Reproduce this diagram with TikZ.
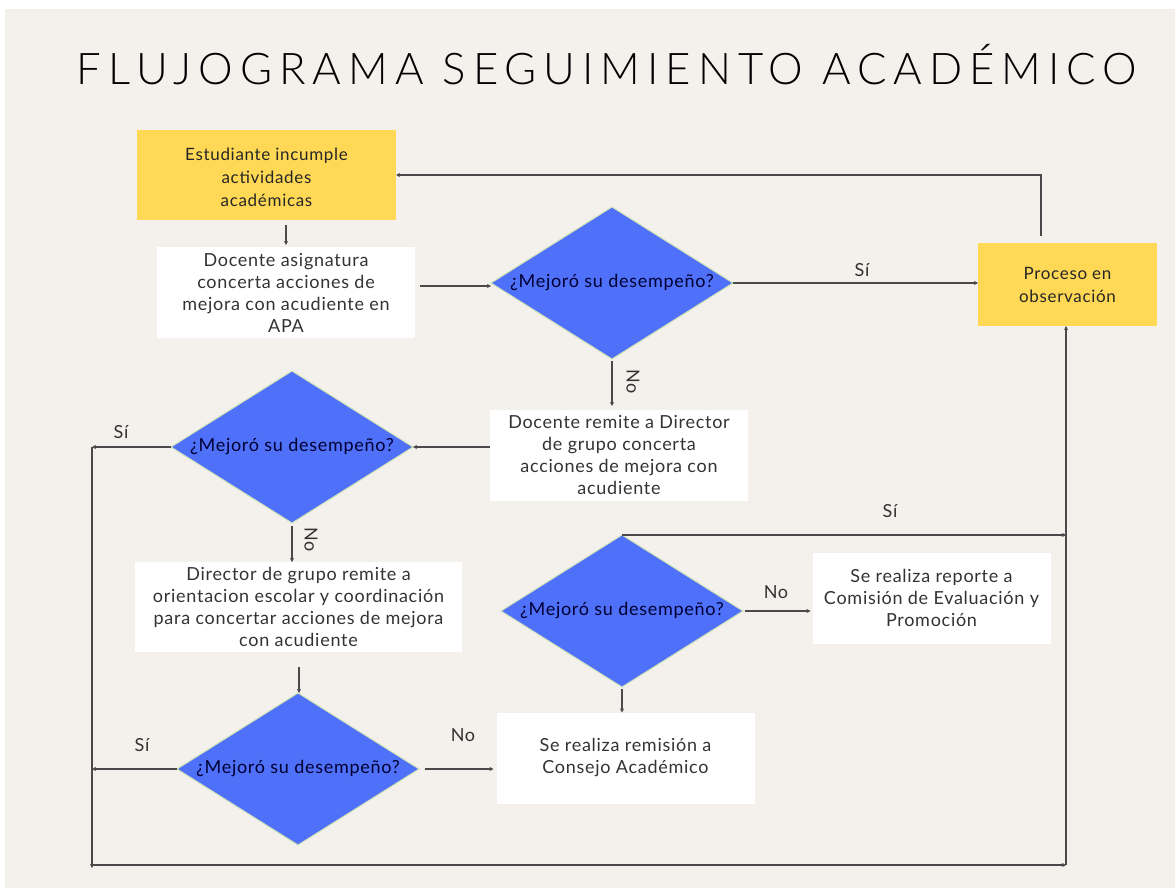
\documentclass[tikz,border=0pt]{standalone}
\usepackage{fontspec}
\usepackage{graphicx}
\usetikzlibrary{shapes.geometric,arrows.meta}
\setmainfont{Lato}[LetterSpace=4]
\newfontfamily\titlefont[LetterSpace=16]{Lato Light}
\definecolor{bgc}{HTML}{F4F1EC}
\definecolor{ylw}{HTML}{FFD955}
\definecolor{dblue}{HTML}{4F70F8}
\definecolor{dedge}{HTML}{CFE3B5}
\definecolor{lnc}{HTML}{4A4A4A}
\definecolor{txc}{HTML}{333333}
\tikzset{
  x=1pt, y=-1pt,
  every node/.style={inner sep=0pt, outer sep=0pt},
  boxtxt/.style={font=\fontsize{18}{22}\selectfont, text=txc, align=center},
  ybox/.style={boxtxt, fill=ylw, font=\fontsize{17}{23}\selectfont, text=black!85},
  wbox/.style={boxtxt, fill=white},
  dia/.style={diamond, fill=dblue, draw=dedge, line width=1pt, minimum width=242pt, minimum height=152pt, font=\fontsize{18}{20}\selectfont, text=black!80!blue},
  conn/.style={draw=lnc, line width=1.2pt},
  arr/.style={conn, -{Stealth[length=4pt,width=4pt]}},
  lab/.style={font=\fontsize{18}{20}\selectfont, text=txc}
}
\begin{document}
\begin{tikzpicture}
\useasboundingbox (0,0) rectangle (1175,888);
\fill[white] (0,0) rectangle (1175,888);
\fill[bgc] (5,9) rectangle (1175,888);

\node[anchor=base] (title) at (607,85) {\resizebox{1060pt}{!}{\titlefont\fontsize{44}{50}\selectfont FLUJOGRAMA SEGUIMIENTO ACADÉMICO}};

% boxes
\node[ybox, minimum width=259pt, minimum height=90pt] (y1) at (266.5,175) {\rule{0pt}{17pt}Estudiante incumple\\actividades\\académicas};
\node[wbox, minimum width=258pt, minimum height=91pt] (w1) at (286,292.5) {Docente asignatura\\concerta acciones de\\mejora con acudiente en\\APA};
\node[ybox, font=\fontsize{17}{23}\selectfont, minimum width=179pt, minimum height=83pt] (p) at (1067.5,284.5) {Proceso en\\observación};
\node[wbox, minimum width=258pt, minimum height=91pt] (w2) at (619,455.5) {Docente remite a Director\\de grupo concerta\\acciones de mejora con\\acudiente};
\node[wbox, minimum width=327pt, minimum height=90pt] (w3) at (298.5,607) {Director de grupo remite a\\orientacion escolar y coordinación\\para concertar acciones de mejora\\con acudiente};
\node[wbox, minimum width=238pt, minimum height=91pt] (w4) at (931.5,598) {Se realiza reporte a\\Comisión de Evaluación y\\Promoción};
\node[wbox, minimum width=258pt, minimum height=91pt] (w5) at (625.5,758) {Se realiza remisión a\\Consejo Académico};

% diamonds
\node[dia] (d1) at (612,283) {\makebox[0pt]{¿Mejoró su desempeño?}};
\node[dia] (d2) at (292,447) {\makebox[0pt]{¿Mejoró su desempeño?}};
\node[dia] (d3) at (622,611) {\makebox[0pt]{¿Mejoró su desempeño?}};
\node[dia] (d4) at (298,769) {\makebox[0pt]{¿Mejoró su desempeño?}};

% helper coordinates
\coordinate (cL) at (92,447);
\coordinate (cB) at (92,865);
\coordinate (cR) at (1066,865);
\coordinate (cT) at (1041,236);
\coordinate (cY) at (286,225);
\coordinate (cW) at (299,667);
\coordinate (cA) at (420,286);

% connectors
\draw[arr] (cY) -- ([yshift=2pt]w1.north -| cY);
\draw[arr] (cA) -- (d1.west |- cA);
\draw[arr] (d1.east) -- (d1.east -| p.west);
\draw[arr] (cT) |- (y1.east);
\draw[arr] ([yshift=-2pt]d1.south) -- ([yshift=4pt]w2.north -| d1.south);
\draw[arr] (w2.west |- d2.east) -- (d2.east);
\draw[arr] (d2.west) -- (cL);
\draw[arr] (cL) -- ([yshift=-3pt]cB);
\draw[arr] ([xshift=1pt]cB) -- (cR);
\draw[arr] (cR) -- (cR |- p.south);
\draw[arr] ([yshift=-3pt]d2.south) -- (d2.south |- w3.north);
\draw[arr] (cW) -- (cW |- d4.north);
\draw[arr] (d4.west) -- (cL |- d4.west);
\draw[arr] ([xshift=6pt]d4.east) -- ([xshift=-3pt]w5.west |- d4.east);
\draw[arr] (d3.north) -- (d3.north -| cR);
\draw[arr] ([xshift=2pt]d3.east) -- ([xshift=-2pt]w4.west |- d3.east);
\draw[arr] ([yshift=-2pt]d3.south) -- (d3.south |- w5.north);

% labels
\node[lab] (s1) at (862,270) {Sí};
\node[lab] (s2) at (121,432) {Sí};
\node[lab] (s3) at (890,511) {Sí};
\node[lab] (s4) at (142,745) {Sí};
\node[lab] (n1) at (776,592) {No};
\node[lab] (n2) at (463,735) {No};
\node[lab, rotate=-90] (n3) at (633,382) {No};
\node[lab, rotate=-90] (n4) at (311,540) {No};
\end{tikzpicture}
\end{document}
